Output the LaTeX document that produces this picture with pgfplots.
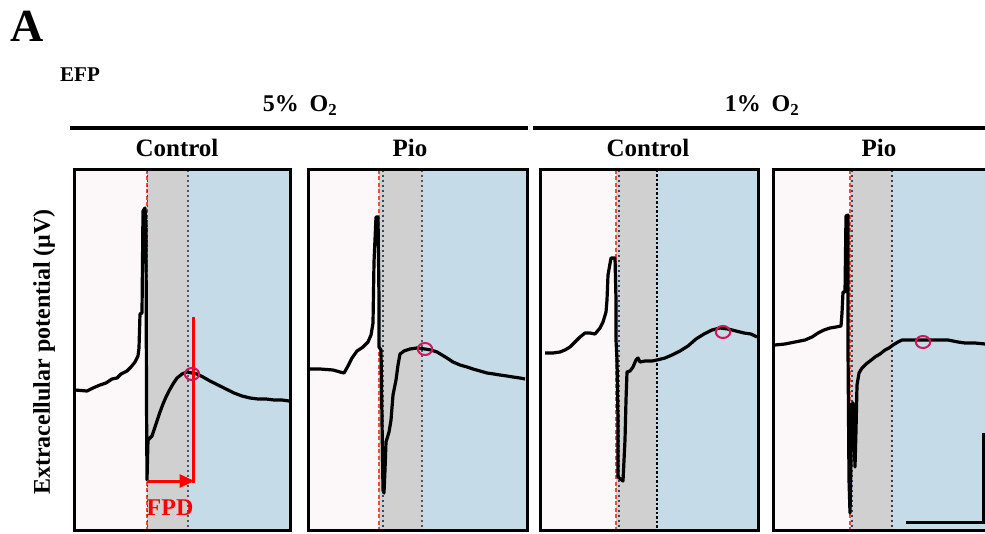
\documentclass[border=0pt]{standalone}
\usepackage{fontspec}
\setmainfont{Liberation Serif}
\usepackage{pgfplots}
\pgfplotsset{compat=1.18}
\usetikzlibrary{arrows.meta}
\definecolor{pinkbg}{HTML}{FCF8F9}
\definecolor{graybg}{HTML}{D0D0D0}
\definecolor{bluebg}{HTML}{C5DCE8}
\definecolor{crim}{HTML}{D2145A}
\definecolor{dblue}{HTML}{2E4A66}
\definecolor{dgray}{HTML}{555555}
\definecolor{rdash}{HTML}{F04A3A}
\pgfplotsset{panel/.style={scale only axis, anchor=north west, axis on top,
  ticks=none, y dir=reverse, clip=true,
  axis line style={line width=3pt, black}},
  trace/.style={black, line width=3.2pt, line join=round, no marks},
  circ/.style={only marks, mark=o, crim, mark size=6pt, line width=2pt, mark options={xscale=1.2}}}
\newcommand{\bgfill}[5]{%
  \fill[pinkbg] (axis cs:#1,169.5) rectangle (axis cs:#2,530.5);
  \fill[graybg] (axis cs:#2,169.5) rectangle (axis cs:#3,530.5);
  \fill[bluebg] (axis cs:#3,169.5) rectangle (axis cs:#4,530.5);
  \draw[rdash, line width=1.6pt, dash pattern=on 4pt off 2.5pt] (axis cs:#2,169.5) -- (axis cs:#2,530.5);
  \draw[dblue, line width=1.6pt, dash pattern=on 2.5pt off 2.5pt] (axis cs:#5,169.5) -- (axis cs:#5,530.5);
}
\begin{document}
\begin{tikzpicture}
\useasboundingbox (0pt,0pt) rectangle (985pt,-534pt);
\node[anchor=base west, inner sep=0pt, font=\bfseries\fontsize{46}{46}\selectfont] at (10pt,-42pt) {A};
\node[anchor=base west, inner sep=0pt, font=\bfseries\fontsize{21}{21}\selectfont] at (60pt,-82pt) {EFP};
\node[anchor=base, inner sep=0pt, font=\bfseries\fontsize{24}{24}\selectfont] at (300pt,-112pt) {5\%\hspace{0.45em}O\textsubscript{2}};
\node[anchor=base, inner sep=0pt, font=\bfseries\fontsize{24}{24}\selectfont] at (762pt,-112pt) {1\%\hspace{0.45em}O\textsubscript{2}};
\draw[line width=3.2pt] (70pt,-128pt) -- (528pt,-128pt);
\draw[line width=3.2pt] (533pt,-128pt) -- (990pt,-128pt);
\node[anchor=base, inner sep=0pt, font=\bfseries\fontsize{25}{25}\selectfont] at (177pt,-157pt) {Control};
\node[anchor=base, inner sep=0pt, font=\bfseries\fontsize{25}{25}\selectfont] at (410pt,-157pt) {Pio};
\node[anchor=base, inner sep=0pt, font=\bfseries\fontsize{25}{25}\selectfont] at (648pt,-157pt) {Control};
\node[anchor=base, inner sep=0pt, font=\bfseries\fontsize{25}{25}\selectfont] at (879pt,-157pt) {Pio};
\node[rotate=90, anchor=center, inner sep=0pt, font=\bfseries\fontsize{24}{24}\selectfont] at (44pt,-352pt) {Extracellular potential (μV)};

% Panel 1: 5% O2 Control
\begin{axis}[panel, at={(74.5pt,-169.5pt)}, width=216pt, height=361pt,
  xmin=74.5, xmax=290.5, ymin=169.5, ymax=530.5]
\bgfill{74.5}{147}{188}{290.5}{147.5}
\draw[dgray, line width=1.6pt, dash pattern=on 2.5pt off 2.5pt] (axis cs:188,169.5) -- (axis cs:188,530.5);
\addplot[trace] coordinates {(75,390) (87,391) (93,388) (100,385) (106,383) (112,379) (117,378) (121,374) (127,371) (131,367) (135,362) (138,356) (139,348) (140,314) (142,313) (143,211) (145,208) (146,230) (146.5,400) (147,480) (148,440) (152,436) (154,430) (156,424) (158,418) (160,412) (163,404) (166,397) (169,391) (173,384) (177,378) (182,374) (187,372) (192,373) (197,374) (203,377) (210,381) (218,385) (226,389) (234,393) (242,396) (250,398) (258,399) (266,399) (274,400) (282,400) (289,401)};
\addplot[circ] coordinates {(192,374)};
\draw[red, line width=3pt] (axis cs:193,317) -- (axis cs:193,483);
\draw[red, line width=3pt, -{Triangle[length=15pt,width=13pt]}] (axis cs:147,481) -- (axis cs:194.5,481);
\node[red, font=\bfseries\fontsize{24}{24}\selectfont, inner sep=0pt, anchor=base] at (axis cs:170,515) {FPD};
\end{axis}

% Panel 2: 5% O2 Pio
\begin{axis}[panel, at={(308.5pt,-169.5pt)}, width=219pt, height=361pt,
  xmin=308.5, xmax=527.5, ymin=169.5, ymax=530.5]
\bgfill{308.5}{379}{422}{527.5}{383}
\draw[dgray, line width=1.6pt, dash pattern=on 2.5pt off 2.5pt] (axis cs:422,169.5) -- (axis cs:422,530.5);
\addplot[trace] coordinates {(309,369) (320,369) (333,370) (340,372) (344,373) (348,366) (352,358) (357,351) (363,347) (368,342) (371,335) (373,323) (374,262) (376,217) (378,217) (379,300) (379,347) (381,350) (382,420) (383,490) (384,493) (385,470) (386,442) (389,432) (391,420) (393,395) (396,380) (398,365) (400,354) (404,351) (410,349) (417,348) (425,349) (431,350) (437,352) (442,355) (447,358) (453,362) (460,365) (467,367) (473,369) (480,371) (487,373) (494,374) (500,375) (507,376) (513,377) (520,378) (525,379)};
\addplot[circ] coordinates {(425,349)};
\end{axis}

% Panel 3: 1% O2 Control
\begin{axis}[panel, at={(540.5pt,-169.5pt)}, width=218pt, height=361pt,
  xmin=540.5, xmax=758.5, ymin=169.5, ymax=530.5]
\bgfill{540.5}{616}{619}{758.5}{619}
\fill[graybg] (axis cs:620,169.5) rectangle (axis cs:656,530.5);
\draw[black, line width=2pt, dash pattern=on 2.5pt off 2pt] (axis cs:657,169.5) -- (axis cs:657,530.5);
\addplot[trace] coordinates {(545,353) (553,353) (560,352) (565,350) (570,347) (575,342) (580,337) (585,333) (590,333) (595,334) (600,328) (603,322) (606,312) (607,300) (608,275) (611,258) (615,258) (616,300) (616,340) (617,360) (618,420) (618,477) (623,481) (625,440) (626,400) (627,372) (630,371) (633,367) (636,360) (638,358) (640,362) (645,361) (652,361) (657,360) (665,358) (672,355) (680,351) (688,346) (696,339) (704,334) (712,330) (720,328) (728,329) (736,331) (744,333) (751,334) (757,337)};
\addplot[circ] coordinates {(723,332)};
\end{axis}

% Panel 4: 1% O2 Pio
\begin{axis}[panel, at={(773.5pt,-169.5pt)}, width=216.5pt, height=361pt,
  xmin=773.5, xmax=990, ymin=169.5, ymax=530.5]
\bgfill{773.5}{850}{892}{990}{852}
\draw[dgray!70!black, line width=1.6pt, dash pattern=on 2.5pt off 2.5pt] (axis cs:892,169.5) -- (axis cs:892,530.5);
\addplot[trace] coordinates {(775,345) (785,344) (795,342) (805,340) (812,337) (818,333) (824,330) (830,328) (836,327) (841,326) (842,313) (843,292) (845,292) (846,216) (848,215) (848,350) (849,480) (850,513) (851,460) (851,405) (853,403) (854,430) (855,467) (856,430) (857,385) (859,373) (862,368) (866,364) (870,361) (875,357) (880,354) (885,350) (889,348) (893,345) (898,342) (902,340) (910,340) (918,340) (925,340) (935,340) (948,340) (958,342) (965,343) (975,343) (985,344)};
\addplot[circ] coordinates {(923,342)};
\end{axis}

\draw[line width=3pt] (983pt,-433pt) -- (983pt,-522pt) -- (906pt,-522pt);
\end{tikzpicture}
\end{document}
